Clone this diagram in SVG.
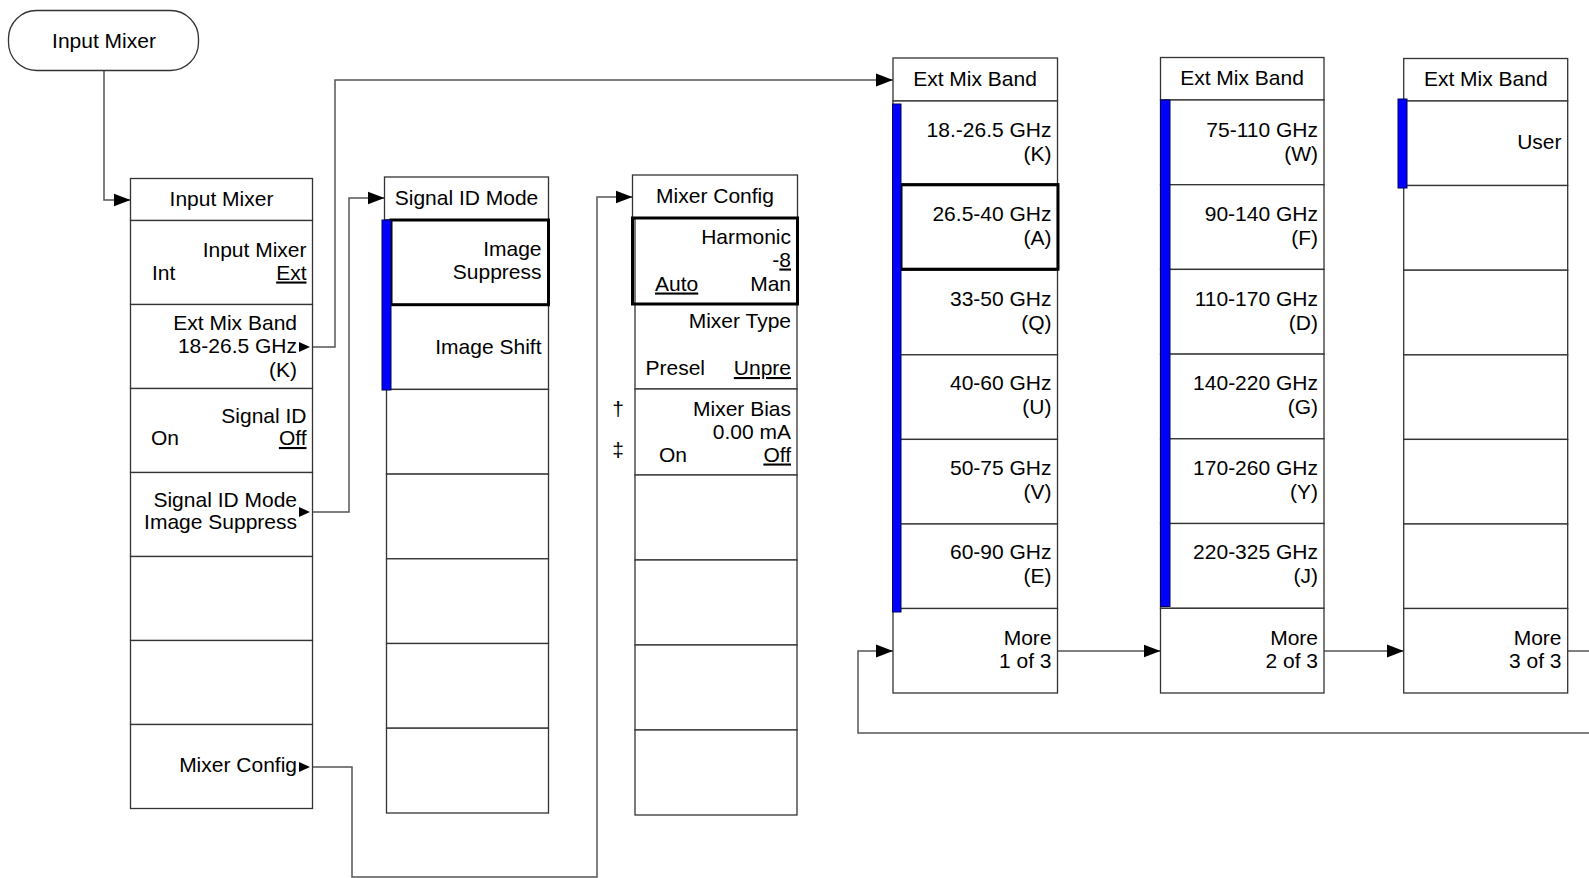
<svg xmlns="http://www.w3.org/2000/svg" width="1589" height="878" viewBox="0 0 1589 878">
<style>
.box{fill:#fff;stroke:#333;stroke-width:1.3}
.hl{fill:none;stroke:#000;stroke-width:3}
.bar{fill:#0000ff;stroke:#00005a;stroke-width:1}
.con{fill:none;stroke:#555;stroke-width:1.5}
.tri{fill:#000}
text{font-family:"Liberation Sans",Arial,sans-serif;font-size:21px;fill:#000}
.r{text-anchor:end}
.m{text-anchor:middle}
.u{text-decoration:underline}
</style>
<defs>
<marker id="arr" markerUnits="userSpaceOnUse" markerWidth="18" markerHeight="15" refX="17" refY="7" orient="auto">
<path d="M0,0.5 L17,7 L0,13.5 Z" fill="#000"/>
</marker>
</defs>

<g id="connectors">
<path class="con" d="M104,71 V200 H130.5" marker-end="url(#arr)"/>
<path class="con" d="M313,347 H335 V80 H893" marker-end="url(#arr)"/>
<path class="con" d="M313,512 H349 V198 H384.5" marker-end="url(#arr)"/>
<path class="con" d="M313,767 H352 V877 H597 V197 H632.5" marker-end="url(#arr)"/>
<path class="con" d="M1057.5,651 H1160.5" marker-end="url(#arr)"/>
<path class="con" d="M1324,651 H1403.7" marker-end="url(#arr)"/>
<path class="con" d="M1567.7,651 H1600 V733 H858 V651 H893" marker-end="url(#arr)"/>
</g>

<g id="start-input-mixer">
<rect x="8.5" y="10.5" width="190" height="60" rx="28" fill="#fff" stroke="#333" stroke-width="1.3"/>
<text x="104" y="48" class="m">Input Mixer</text>
</g>

<g id="menu-input-mixer">
<rect class="box" x="130.5" y="178.5" width="182" height="42"/>
<rect class="box" x="130.5" y="220.5" width="182" height="84"/>
<rect class="box" x="130.5" y="304.5" width="182" height="84"/>
<rect class="box" x="130.5" y="388.5" width="182" height="84"/>
<rect class="box" x="130.5" y="472.5" width="182" height="84"/>
<rect class="box" x="130.5" y="556.5" width="182" height="84"/>
<rect class="box" x="130.5" y="640.5" width="182" height="84"/>
<rect class="box" x="130.5" y="724.5" width="182" height="84"/>
<text x="221.5" y="206" class="m">Input Mixer</text>
<text x="306.5" y="257" class="r">Input Mixer</text>
<text x="152" y="279.5">Int</text>
<text x="306.5" y="279.5" class="r u">Ext</text>
<text x="297" y="330" class="r">Ext Mix Band</text>
<text x="297" y="353" class="r">18-26.5 GHz</text>
<text x="297" y="376.5" class="r">(K)</text>
<polygon class="tri" points="299,342 310,347 299,352"/>
<text x="306.5" y="423" class="r">Signal ID</text>
<text x="151" y="445">On</text>
<text x="306.5" y="445" class="r u">Off</text>
<text x="297" y="506.5" class="r">Signal ID Mode</text>
<text x="297" y="529" class="r">Image Suppress</text>
<polygon class="tri" points="299,507 310,512 299,517"/>
<text x="297" y="772" class="r">Mixer Config</text>
<polygon class="tri" points="299,762 310,767 299,772"/>
</g>

<g id="menu-signal-id-mode">
<rect class="box" x="384.5" y="177" width="164" height="43"/>
<rect class="box" x="386.5" y="220" width="162" height="84.7"/>
<rect class="box" x="386.5" y="304.7" width="162" height="84.7"/>
<rect class="box" x="386.5" y="389.4" width="162" height="84.7"/>
<rect class="box" x="386.5" y="474.1" width="162" height="84.7"/>
<rect class="box" x="386.5" y="558.8" width="162" height="84.7"/>
<rect class="box" x="386.5" y="643.5" width="162" height="84.7"/>
<rect class="box" x="386.5" y="728.2" width="162" height="84.8"/>
<rect class="hl" x="391" y="220" width="157.5" height="84.7"/>
<rect class="bar" x="382" y="220" width="9" height="170"/>
<text x="466.5" y="205" class="m">Signal ID Mode</text>
<text x="541.5" y="256" class="r">Image</text>
<text x="541.5" y="278.5" class="r">Suppress</text>
<text x="541.5" y="353.5" class="r">Image Shift</text>
</g>

<g id="menu-mixer-config">
<rect class="box" x="632.5" y="175" width="165" height="43"/>
<rect class="box" x="635" y="218" width="162" height="86"/>
<rect class="box" x="635" y="304" width="162" height="85"/>
<rect class="box" x="635" y="389" width="162" height="86"/>
<rect class="box" x="635" y="475" width="162" height="85"/>
<rect class="box" x="635" y="560" width="162" height="85"/>
<rect class="box" x="635" y="645" width="162" height="85"/>
<rect class="box" x="635" y="730" width="162" height="85"/>
<rect class="hl" x="632.5" y="218" width="165" height="86"/>
<text x="715" y="203" class="m">Mixer Config</text>
<text x="791" y="243.5" class="r">Harmonic</text>
<text x="791" y="266.5" class="r">-<tspan class="u">8</tspan></text>
<text x="655" y="290.5" class="u">Auto</text>
<text x="791" y="290.5" class="r">Man</text>
<text x="791" y="327.5" class="r">Mixer Type</text>
<text x="645.5" y="375">Presel</text>
<text x="791" y="375" class="r u">Unpre</text>
<text x="791" y="416" class="r">Mixer Bias</text>
<text x="791" y="438.5" class="r">0.00 mA</text>
<text x="659" y="461.5">On</text>
<text x="791" y="461.5" class="r u">Off</text>
<text x="618" y="416" class="m">†</text>
<text x="618" y="457" class="m">‡</text>
</g>

<g id="menu-ext-mix-band-1">
<rect class="box" x="893" y="58" width="164.5" height="43"/>
<rect class="box" x="893" y="101" width="164.5" height="84.6"/>
<rect class="box" x="893" y="185.6" width="164.5" height="84.6"/>
<rect class="box" x="893" y="270.2" width="164.5" height="84.6"/>
<rect class="box" x="893" y="354.8" width="164.5" height="84.6"/>
<rect class="box" x="893" y="439.4" width="164.5" height="84.6"/>
<rect class="box" x="893" y="524" width="164.5" height="84.5"/>
<rect class="box" x="893" y="608.5" width="164.5" height="84.5"/>
<rect class="hl" x="901" y="184.6" width="157" height="84.6"/>
<rect class="bar" x="892.5" y="104" width="8.5" height="508"/>
<text x="975" y="86" class="m">Ext Mix Band</text>
<text x="1051.5" y="137" class="r">18.-26.5 GHz</text>
<text x="1051.5" y="161" class="r">(K)</text>
<text x="1051.5" y="221" class="r">26.5-40 GHz</text>
<text x="1051.5" y="244.5" class="r">(A)</text>
<text x="1051.5" y="305.5" class="r">33-50 GHz</text>
<text x="1051.5" y="329.5" class="r">(Q)</text>
<text x="1051.5" y="390" class="r">40-60 GHz</text>
<text x="1051.5" y="414" class="r">(U)</text>
<text x="1051.5" y="474.5" class="r">50-75 GHz</text>
<text x="1051.5" y="498.5" class="r">(V)</text>
<text x="1051.5" y="559" class="r">60-90 GHz</text>
<text x="1051.5" y="583" class="r">(E)</text>
<text x="1051.5" y="645" class="r">More</text>
<text x="1051.5" y="667.5" class="r">1 of 3</text>
</g>

<g id="menu-ext-mix-band-2">
<rect class="box" x="1160.5" y="57.5" width="163.5" height="42.5"/>
<rect class="box" x="1160.5" y="100" width="163.5" height="84.7"/>
<rect class="box" x="1160.5" y="184.7" width="163.5" height="84.7"/>
<rect class="box" x="1160.5" y="269.4" width="163.5" height="84.7"/>
<rect class="box" x="1160.5" y="354.1" width="163.5" height="84.7"/>
<rect class="box" x="1160.5" y="438.8" width="163.5" height="84.7"/>
<rect class="box" x="1160.5" y="523.5" width="163.5" height="84.8"/>
<rect class="box" x="1160.5" y="608.3" width="163.5" height="84.7"/>
<rect class="bar" x="1160.5" y="100" width="9.5" height="506.5"/>
<text x="1242" y="85" class="m">Ext Mix Band</text>
<text x="1318" y="137" class="r">75-110 GHz</text>
<text x="1318" y="161" class="r">(W)</text>
<text x="1318" y="221" class="r">90-140 GHz</text>
<text x="1318" y="245" class="r">(F)</text>
<text x="1318" y="305.5" class="r">110-170 GHz</text>
<text x="1318" y="329.5" class="r">(D)</text>
<text x="1318" y="390" class="r">140-220 GHz</text>
<text x="1318" y="414" class="r">(G)</text>
<text x="1318" y="474.5" class="r">170-260 GHz</text>
<text x="1318" y="498.5" class="r">(Y)</text>
<text x="1318" y="559" class="r">220-325 GHz</text>
<text x="1318" y="583" class="r">(J)</text>
<text x="1318" y="645" class="r">More</text>
<text x="1318" y="667.5" class="r">2 of 3</text>
</g>

<g id="menu-ext-mix-band-3">
<rect class="box" x="1403.7" y="58.5" width="164" height="42.5"/>
<rect class="box" x="1403.7" y="101" width="164" height="84.5"/>
<rect class="box" x="1403.7" y="185.5" width="164" height="84.7"/>
<rect class="box" x="1403.7" y="270.2" width="164" height="84.7"/>
<rect class="box" x="1403.7" y="354.9" width="164" height="84.5"/>
<rect class="box" x="1403.7" y="439.4" width="164" height="84.6"/>
<rect class="box" x="1403.7" y="524" width="164" height="84.5"/>
<rect class="box" x="1403.7" y="608.5" width="164" height="84.5"/>
<rect class="bar" x="1398" y="99" width="9" height="89"/>
<text x="1485.8" y="86" class="m">Ext Mix Band</text>
<text x="1561.5" y="149" class="r">User</text>
<text x="1561.5" y="645" class="r">More</text>
<text x="1561.5" y="667.5" class="r">3 of 3</text>
</g>
</svg>
